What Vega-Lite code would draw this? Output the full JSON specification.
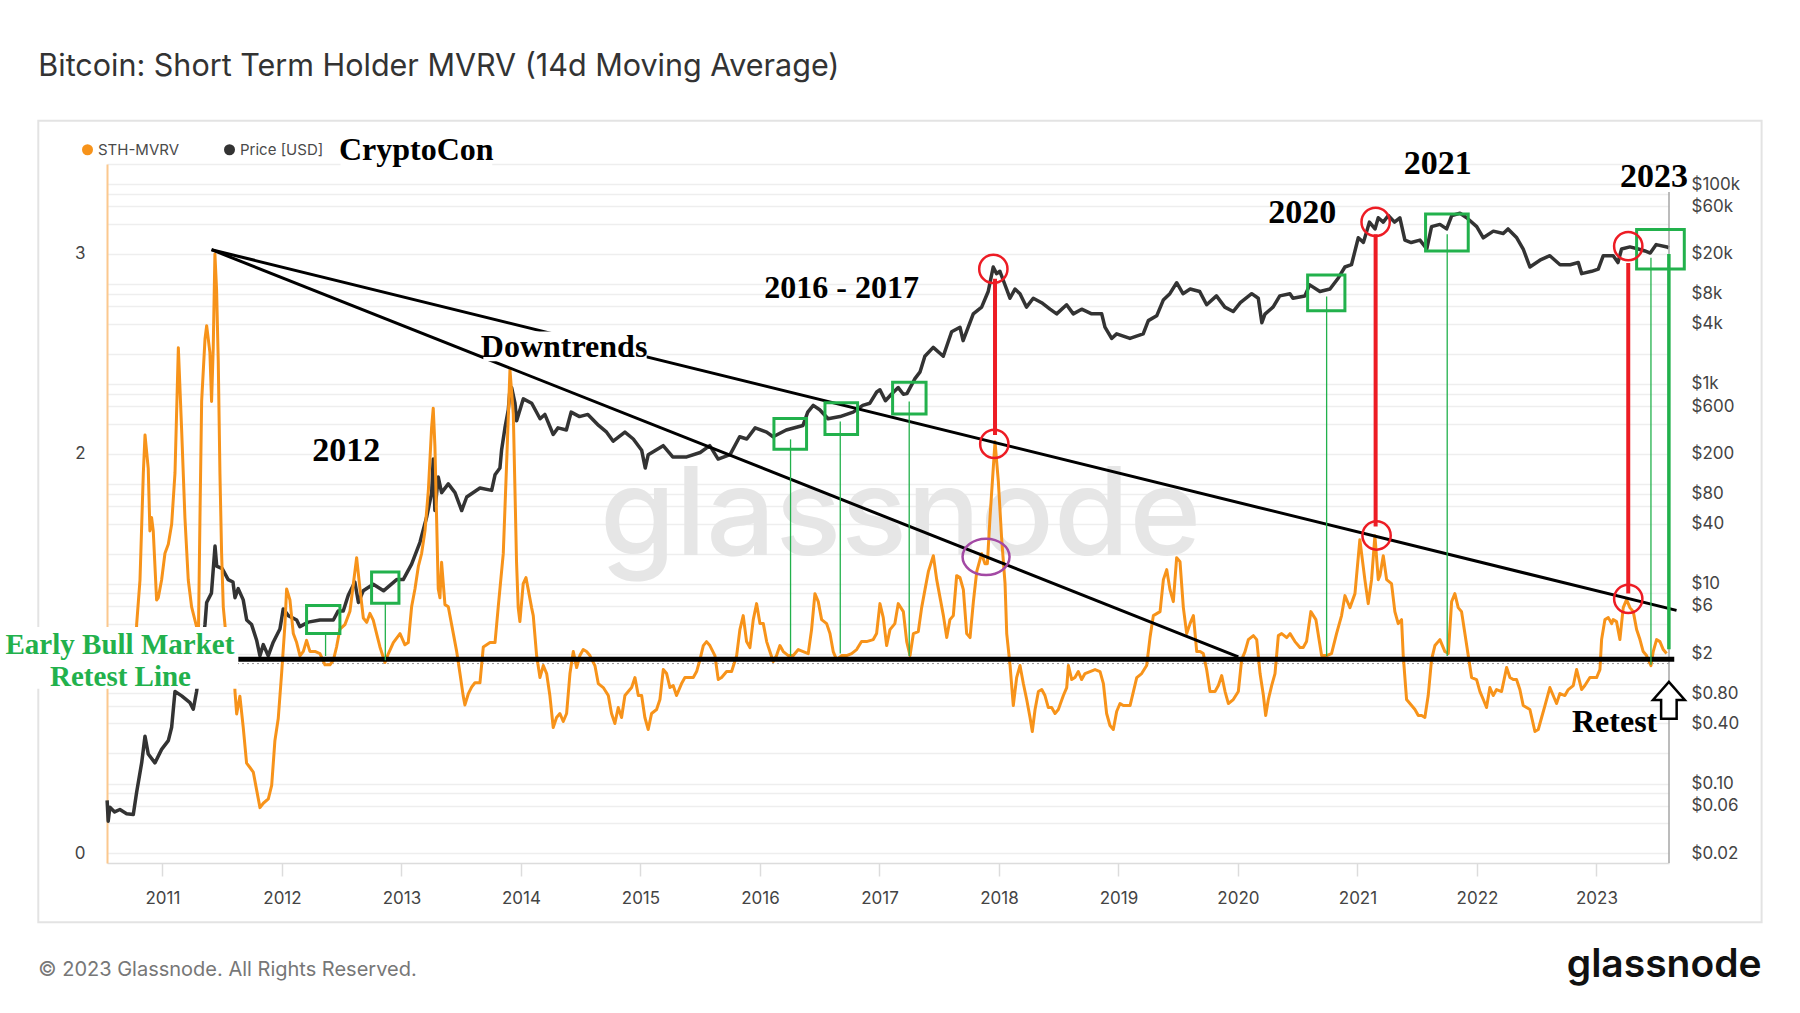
{
  "$schema": "https://vega.github.io/schema/vega-lite/v6.json",
  "width": 1562,
  "height": 699,
  "autosize": "none",
  "padding": {"left": 107, "top": 164, "right": 131, "bottom": 150},
  "background": "white",
  "config": {"view": {"stroke": null}, "font": "Inter"},
  "datasets": {
    "price": [
      {"t":2010.537,"p":0.068},{"t":2010.546,"p":0.042},{"t":2010.56,"p":0.058},{"t":2010.6,"p":0.052},{"t":2010.644,"p":0.055},{"t":2010.7,"p":0.05},{"t":2010.756,"p":0.049},{"t":2010.784,"p":0.082},{"t":2010.826,"p":0.161},{"t":2010.854,"p":0.298},{"t":2010.881,"p":0.198},{"t":2010.937,"p":0.161},{"t":2010.993,"p":0.22},{"t":2011.049,"p":0.269},{"t":2011.077,"p":0.366},{"t":2011.105,"p":0.836},{"t":2011.161,"p":0.754},{"t":2011.23,"p":0.646},{"t":2011.258,"p":0.555},{"t":2011.286,"p":0.84},{"t":2011.356,"p":3.92},{"t":2011.37,"p":6.5},{"t":2011.41,"p":8.05},{"t":2011.44,"p":23.8},{"t":2011.454,"p":15},{"t":2011.5,"p":14.2},{"t":2011.55,"p":11},{"t":2011.59,"p":10.4},{"t":2011.607,"p":7.26},{"t":2011.634,"p":8.93},{"t":2011.676,"p":6.9},{"t":2011.705,"p":4.34},{"t":2011.746,"p":3.9},{"t":2011.788,"p":2.72},{"t":2011.816,"p":1.9},{"t":2011.844,"p":2.46},{"t":2011.885,"p":1.9},{"t":2011.927,"p":2.6},{"t":2011.983,"p":3.53},{"t":2012.011,"p":5.6},{"t":2012.053,"p":4.8},{"t":2012.123,"p":4.34},{"t":2012.15,"p":3.72},{"t":2012.22,"p":4.13},{"t":2012.318,"p":4.34},{"t":2012.43,"p":4.34},{"t":2012.47,"p":5.33},{"t":2012.513,"p":5.33},{"t":2012.555,"p":7.66},{"t":2012.61,"p":10.4},{"t":2012.64,"p":6.5},{"t":2012.68,"p":8.5},{"t":2012.764,"p":9.9},{"t":2012.85,"p":8.5},{"t":2012.96,"p":11},{"t":2013.015,"p":11},{"t":2013.085,"p":15.7},{"t":2013.155,"p":26},{"t":2013.21,"p":46},{"t":2013.253,"p":81.6},{"t":2013.266,"p":177},{"t":2013.28,"p":54},{"t":2013.308,"p":117},{"t":2013.336,"p":81.6},{"t":2013.392,"p":100},{"t":2013.448,"p":81.6},{"t":2013.504,"p":54},{"t":2013.546,"p":73.8},{"t":2013.657,"p":90.8},{"t":2013.755,"p":86},{"t":2013.783,"p":123},{"t":2013.824,"p":144},{"t":2013.838,"p":218},{"t":2013.866,"p":363},{"t":2013.894,"p":551},{"t":2013.908,"p":873},{"t":2013.922,"p":919},{"t":2013.95,"p":641},{"t":2013.964,"p":427},{"t":2014.02,"p":709},{"t":2014.09,"p":641},{"t":2014.16,"p":448},{"t":2014.2,"p":495},{"t":2014.27,"p":312},{"t":2014.31,"p":363},{"t":2014.38,"p":346},{"t":2014.42,"p":522},{"t":2014.49,"p":471},{"t":2014.56,"p":495},{"t":2014.65,"p":384},{"t":2014.717,"p":329},{"t":2014.772,"p":267},{"t":2014.87,"p":329},{"t":2014.94,"p":281},{"t":2015.01,"p":217},{"t":2015.04,"p":144},{"t":2015.065,"p":196},{"t":2015.19,"p":241},{"t":2015.27,"p":186},{"t":2015.387,"p":186},{"t":2015.5,"p":206},{"t":2015.58,"p":241},{"t":2015.65,"p":177},{"t":2015.75,"p":196},{"t":2015.83,"p":296},{"t":2015.89,"p":281},{"t":2015.96,"p":363},{"t":2016.056,"p":329},{"t":2016.11,"p":296},{"t":2016.22,"p":346},{"t":2016.36,"p":384},{"t":2016.4,"p":522},{"t":2016.446,"p":610},{"t":2016.5,"p":551},{"t":2016.57,"p":448},{"t":2016.67,"p":471},{"t":2016.78,"p":522},{"t":2016.86,"p":610},{"t":2016.92,"p":641},{"t":2016.977,"p":830},{"t":2017.004,"p":873},{"t":2017.05,"p":678},{"t":2017.1,"p":787},{"t":2017.157,"p":919},{"t":2017.2,"p":787},{"t":2017.23,"p":800},{"t":2017.297,"p":1130},{"t":2017.34,"p":1321},{"t":2017.38,"p":1892},{"t":2017.45,"p":2323},{"t":2017.534,"p":1892},{"t":2017.604,"p":3327},{"t":2017.674,"p":3690},{"t":2017.7,"p":2710},{"t":2017.785,"p":5024},{"t":2017.855,"p":5871},{"t":2017.91,"p":8416},{"t":2017.952,"p":14800},{"t":2017.98,"p":12700},{"t":2018.008,"p":13400},{"t":2018.036,"p":10900},{"t":2018.078,"p":8000},{"t":2018.092,"p":7200},{"t":2018.134,"p":8900},{"t":2018.176,"p":8000},{"t":2018.23,"p":5871},{"t":2018.287,"p":7200},{"t":2018.357,"p":6500},{"t":2018.427,"p":5600},{"t":2018.483,"p":5024},{"t":2018.566,"p":6200},{"t":2018.622,"p":5024},{"t":2018.692,"p":5600},{"t":2018.776,"p":5024},{"t":2018.86,"p":5024},{"t":2018.887,"p":3700},{"t":2018.943,"p":2850},{"t":2018.985,"p":3170},{"t":2019.096,"p":2850},{"t":2019.207,"p":3170},{"t":2019.25,"p":4300},{"t":2019.32,"p":4800},{"t":2019.375,"p":6900},{"t":2019.43,"p":8000},{"t":2019.487,"p":10300},{"t":2019.54,"p":8000},{"t":2019.6,"p":8900},{"t":2019.68,"p":8400},{"t":2019.738,"p":6200},{"t":2019.82,"p":7600},{"t":2019.89,"p":5870},{"t":2019.96,"p":5300},{"t":2020.02,"p":6500},{"t":2020.115,"p":8000},{"t":2020.17,"p":7200},{"t":2020.2,"p":4100},{"t":2020.226,"p":5000},{"t":2020.295,"p":5900},{"t":2020.35,"p":7600},{"t":2020.435,"p":8000},{"t":2020.46,"p":7200},{"t":2020.56,"p":7600},{"t":2020.6,"p":9800},{"t":2020.686,"p":8400},{"t":2020.77,"p":8900},{"t":2020.84,"p":11500},{"t":2020.895,"p":14800},{"t":2020.95,"p":15600},{"t":2021.007,"p":29000},{"t":2021.05,"p":26100},{"t":2021.1,"p":41600},{"t":2021.147,"p":35600},{"t":2021.174,"p":46100},{"t":2021.216,"p":41600},{"t":2021.258,"p":48500},{"t":2021.31,"p":41600},{"t":2021.355,"p":46000},{"t":2021.397,"p":27500},{"t":2021.45,"p":26000},{"t":2021.523,"p":27500},{"t":2021.58,"p":22400},{"t":2021.62,"p":37500},{"t":2021.69,"p":39500},{"t":2021.746,"p":35600},{"t":2021.79,"p":48500},{"t":2021.858,"p":51000},{"t":2021.914,"p":46000},{"t":2021.998,"p":37500},{"t":2022.053,"p":29000},{"t":2022.137,"p":33800},{"t":2022.22,"p":32000},{"t":2022.26,"p":35600},{"t":2022.333,"p":29000},{"t":2022.387,"p":22400},{"t":2022.443,"p":14800},{"t":2022.527,"p":17300},{"t":2022.61,"p":19200},{"t":2022.695,"p":15600},{"t":2022.78,"p":15600},{"t":2022.848,"p":16400},{"t":2022.876,"p":12700},{"t":2022.96,"p":13400},{"t":2023.015,"p":14100},{"t":2023.057,"p":19200},{"t":2023.14,"p":19200},{"t":2023.18,"p":16400},{"t":2023.21,"p":22400},{"t":2023.28,"p":23500},{"t":2023.35,"p":22400},{"t":2023.406,"p":21400},{"t":2023.45,"p":20400},{"t":2023.5,"p":24800},{"t":2023.59,"p":23500},{"t":2023.606,"p":23000}
    ],
    "mvrv": [
      {"t":2010.77,"m":0.9},{"t":2010.784,"m":1.145},{"t":2010.812,"m":1.368},{"t":2010.84,"m":1.904},{"t":2010.854,"m":2.094},{"t":2010.881,"m":1.927},{"t":2010.895,"m":1.614},{"t":2010.909,"m":1.681},{"t":2010.923,"m":1.614},{"t":2010.951,"m":1.268},{"t":2010.965,"m":1.279},{"t":2010.993,"m":1.368},{"t":2011.021,"m":1.502},{"t":2011.049,"m":1.547},{"t":2011.077,"m":1.647},{"t":2011.105,"m":1.904},{"t":2011.133,"m":2.53},{"t":2011.16,"m":2.128},{"t":2011.188,"m":1.681},{"t":2011.216,"m":1.368},{"t":2011.244,"m":1.234},{"t":2011.286,"m":1.133},{"t":2011.297,"m":0.92},{"t":2011.314,"m":1.681},{"t":2011.328,"m":2.262},{"t":2011.356,"m":2.574},{"t":2011.37,"m":2.641},{"t":2011.397,"m":2.507},{"t":2011.411,"m":2.262},{"t":2011.425,"m":2.53},{"t":2011.439,"m":2.999},{"t":2011.453,"m":2.82},{"t":2011.467,"m":2.463},{"t":2011.481,"m":1.904},{"t":2011.495,"m":1.502},{"t":2011.509,"m":1.234},{"t":2011.537,"m":1.055},{"t":2011.579,"m":0.95},{"t":2011.6,"m":0.93},{"t":2011.607,"m":0.81},{"t":2011.621,"m":0.698},{"t":2011.648,"m":0.787},{"t":2011.676,"m":0.631},{"t":2011.704,"m":0.452},{"t":2011.732,"m":0.43},{"t":2011.76,"m":0.407},{"t":2011.788,"m":0.318},{"t":2011.816,"m":0.229},{"t":2011.844,"m":0.251},{"t":2011.886,"m":0.273},{"t":2011.914,"m":0.34},{"t":2011.941,"m":0.564},{"t":2011.969,"m":0.675},{"t":2011.997,"m":0.899},{"t":2012.025,"m":1.145},{"t":2012.039,"m":1.323},{"t":2012.067,"m":1.268},{"t":2012.095,"m":1.1},{"t":2012.123,"m":1.055},{"t":2012.151,"m":0.988},{"t":2012.179,"m":1.011},{"t":2012.206,"m":1.066},{"t":2012.234,"m":1.011},{"t":2012.276,"m":1.011},{"t":2012.318,"m":1.0},{"t":2012.36,"m":0.944},{"t":2012.402,"m":0.944},{"t":2012.43,"m":0.966},{"t":2012.457,"m":1.033},{"t":2012.485,"m":1.122},{"t":2012.527,"m":1.145},{"t":2012.569,"m":1.212},{"t":2012.597,"m":1.346},{"t":2012.625,"m":1.48},{"t":2012.653,"m":1.323},{"t":2012.681,"m":1.178},{"t":2012.709,"m":1.156},{"t":2012.736,"m":1.201},{"t":2012.764,"m":1.167},{"t":2012.792,"m":1.1},{"t":2012.82,"m":1.033},{"t":2012.862,"m":0.955},{"t":2012.89,"m":0.999},{"t":2012.932,"m":1.055},{"t":2012.988,"m":1.1},{"t":2013.029,"m":1.044},{"t":2013.057,"m":1.055},{"t":2013.085,"m":1.234},{"t":2013.113,"m":1.323},{"t":2013.141,"m":1.435},{"t":2013.169,"m":1.502},{"t":2013.197,"m":1.614},{"t":2013.225,"m":1.815},{"t":2013.252,"m":2.128},{"t":2013.266,"m":2.228},{"t":2013.28,"m":2.038},{"t":2013.308,"m":1.323},{"t":2013.322,"m":1.279},{"t":2013.336,"m":1.457},{"t":2013.364,"m":1.245},{"t":2013.392,"m":1.234},{"t":2013.42,"m":1.145},{"t":2013.462,"m":1.011},{"t":2013.49,"m":0.899},{"t":2013.517,"m":0.787},{"t":2013.531,"m":0.743},{"t":2013.559,"m":0.798},{"t":2013.587,"m":0.832},{"t":2013.615,"m":0.854},{"t":2013.657,"m":0.854},{"t":2013.685,"m":1.033},{"t":2013.741,"m":1.055},{"t":2013.783,"m":1.055},{"t":2013.81,"m":1.234},{"t":2013.852,"m":1.5},{"t":2013.88,"m":1.95},{"t":2013.908,"m":2.42},{"t":2013.936,"m":2.2},{"t":2013.963,"m":1.46},{"t":2013.977,"m":1.23},{"t":2013.991,"m":1.16},{"t":2014.019,"m":1.35},{"t":2014.042,"m":1.38},{"t":2014.061,"m":1.32},{"t":2014.089,"m":1.23},{"t":2014.103,"m":1.19},{"t":2014.131,"m":0.99},{"t":2014.159,"m":0.88},{"t":2014.187,"m":0.94},{"t":2014.215,"m":0.9},{"t":2014.242,"m":0.79},{"t":2014.27,"m":0.63},{"t":2014.298,"m":0.68},{"t":2014.326,"m":0.7},{"t":2014.354,"m":0.66},{"t":2014.382,"m":0.7},{"t":2014.41,"m":0.9},{"t":2014.438,"m":1.01},{"t":2014.466,"m":0.93},{"t":2014.493,"m":0.99},{"t":2014.521,"m":1.02},{"t":2014.549,"m":1.01},{"t":2014.577,"m":0.99},{"t":2014.619,"m":0.94},{"t":2014.647,"m":0.85},{"t":2014.689,"m":0.83},{"t":2014.731,"m":0.79},{"t":2014.758,"m":0.7},{"t":2014.786,"m":0.65},{"t":2014.814,"m":0.73},{"t":2014.842,"m":0.68},{"t":2014.87,"m":0.79},{"t":2014.898,"m":0.81},{"t":2014.926,"m":0.83},{"t":2014.954,"m":0.88},{"t":2014.982,"m":0.79},{"t":2015.01,"m":0.79},{"t":2015.037,"m":0.68},{"t":2015.065,"m":0.62},{"t":2015.093,"m":0.7},{"t":2015.135,"m":0.72},{"t":2015.163,"m":0.77},{"t":2015.191,"m":0.92},{"t":2015.219,"m":0.9},{"t":2015.247,"m":0.83},{"t":2015.274,"m":0.84},{"t":2015.302,"m":0.79},{"t":2015.344,"m":0.85},{"t":2015.372,"m":0.88},{"t":2015.414,"m":0.88},{"t":2015.442,"m":0.88},{"t":2015.47,"m":0.91},{"t":2015.498,"m":0.97},{"t":2015.526,"m":1.04},{"t":2015.553,"m":1.06},{"t":2015.581,"m":1.04},{"t":2015.623,"m":0.99},{"t":2015.651,"m":0.87},{"t":2015.679,"m":0.88},{"t":2015.721,"m":0.91},{"t":2015.763,"m":0.91},{"t":2015.805,"m":0.99},{"t":2015.832,"m":1.12},{"t":2015.86,"m":1.19},{"t":2015.888,"m":1.06},{"t":2015.916,"m":1.03},{"t":2015.944,"m":1.17},{"t":2015.972,"m":1.25},{"t":2016.0,"m":1.15},{"t":2016.028,"m":1.15},{"t":2016.056,"m":1.06},{"t":2016.083,"m":1.01},{"t":2016.111,"m":0.96},{"t":2016.139,"m":0.99},{"t":2016.167,"m":1.04},{"t":2016.195,"m":1.01},{"t":2016.237,"m":0.99},{"t":2016.279,"m":0.99},{"t":2016.321,"m":1.02},{"t":2016.362,"m":1.01},{"t":2016.404,"m":1.0},{"t":2016.432,"m":1.12},{"t":2016.46,"m":1.3},{"t":2016.488,"m":1.26},{"t":2016.516,"m":1.17},{"t":2016.558,"m":1.15},{"t":2016.586,"m":1.1},{"t":2016.613,"m":1.01},{"t":2016.641,"m":0.97},{"t":2016.683,"m":0.99},{"t":2016.725,"m":0.99},{"t":2016.767,"m":1.0},{"t":2016.809,"m":1.02},{"t":2016.85,"m":1.06},{"t":2016.892,"m":1.06},{"t":2016.948,"m":1.07},{"t":2016.976,"m":1.1},{"t":2017.004,"m":1.25},{"t":2017.032,"m":1.18},{"t":2017.06,"m":1.04},{"t":2017.088,"m":1.12},{"t":2017.129,"m":1.15},{"t":2017.157,"m":1.25},{"t":2017.2,"m":1.21},{"t":2017.228,"m":1.06},{"t":2017.256,"m":0.99},{"t":2017.284,"m":1.1},{"t":2017.325,"m":1.11},{"t":2017.353,"m":1.23},{"t":2017.381,"m":1.32},{"t":2017.409,"m":1.41},{"t":2017.451,"m":1.49},{"t":2017.479,"m":1.37},{"t":2017.507,"m":1.28},{"t":2017.535,"m":1.19},{"t":2017.563,"m":1.08},{"t":2017.59,"m":1.17},{"t":2017.618,"m":1.19},{"t":2017.646,"m":1.39},{"t":2017.674,"m":1.38},{"t":2017.702,"m":1.32},{"t":2017.73,"m":1.1},{"t":2017.758,"m":1.08},{"t":2017.786,"m":1.26},{"t":2017.814,"m":1.41},{"t":2017.855,"m":1.5},{"t":2017.883,"m":1.45},{"t":2017.903,"m":1.45},{"t":2017.925,"m":1.68},{"t":2017.967,"m":2.06},{"t":2017.995,"m":1.86},{"t":2018.023,"m":1.57},{"t":2018.051,"m":1.35},{"t":2018.065,"m":1.1},{"t":2018.093,"m":0.94},{"t":2018.12,"m":0.74},{"t":2018.148,"m":0.88},{"t":2018.176,"m":0.94},{"t":2018.204,"m":0.85},{"t":2018.232,"m":0.77},{"t":2018.26,"m":0.68},{"t":2018.279,"m":0.61},{"t":2018.302,"m":0.72},{"t":2018.33,"m":0.81},{"t":2018.358,"m":0.82},{"t":2018.385,"m":0.79},{"t":2018.413,"m":0.73},{"t":2018.441,"m":0.73},{"t":2018.469,"m":0.7},{"t":2018.497,"m":0.72},{"t":2018.539,"m":0.79},{"t":2018.567,"m":0.83},{"t":2018.581,"m":0.94},{"t":2018.609,"m":0.87},{"t":2018.636,"m":0.88},{"t":2018.664,"m":0.91},{"t":2018.692,"m":0.87},{"t":2018.72,"m":0.9},{"t":2018.762,"m":0.91},{"t":2018.804,"m":0.92},{"t":2018.846,"m":0.91},{"t":2018.874,"m":0.85},{"t":2018.901,"m":0.7},{"t":2018.929,"m":0.64},{"t":2018.957,"m":0.62},{"t":2018.985,"m":0.71},{"t":2019.013,"m":0.75},{"t":2019.041,"m":0.74},{"t":2019.097,"m":0.74},{"t":2019.125,"m":0.81},{"t":2019.153,"m":0.88},{"t":2019.194,"m":0.9},{"t":2019.236,"m":0.94},{"t":2019.264,"m":1.08},{"t":2019.292,"m":1.19},{"t":2019.348,"m":1.21},{"t":2019.376,"m":1.37},{"t":2019.404,"m":1.42},{"t":2019.431,"m":1.32},{"t":2019.459,"m":1.26},{"t":2019.487,"m":1.48},{"t":2019.515,"m":1.46},{"t":2019.543,"m":1.23},{"t":2019.571,"m":1.1},{"t":2019.599,"m":1.15},{"t":2019.627,"m":1.19},{"t":2019.655,"m":1.01},{"t":2019.683,"m":1.01},{"t":2019.71,"m":1.0},{"t":2019.738,"m":0.92},{"t":2019.766,"m":0.81},{"t":2019.808,"m":0.81},{"t":2019.836,"m":0.84},{"t":2019.864,"m":0.89},{"t":2019.892,"m":0.81},{"t":2019.92,"m":0.75},{"t":2019.961,"m":0.77},{"t":2020.003,"m":0.81},{"t":2020.031,"m":0.97},{"t":2020.059,"m":1.01},{"t":2020.087,"m":1.07},{"t":2020.129,"m":1.09},{"t":2020.157,"m":1.07},{"t":2020.185,"m":0.9},{"t":2020.213,"m":0.79},{"t":2020.232,"m":0.69},{"t":2020.254,"m":0.77},{"t":2020.282,"m":0.84},{"t":2020.31,"m":0.9},{"t":2020.338,"m":1.09},{"t":2020.366,"m":1.1},{"t":2020.408,"m":1.08},{"t":2020.436,"m":1.1},{"t":2020.477,"m":1.06},{"t":2020.519,"m":1.03},{"t":2020.546,"m":1.03},{"t":2020.574,"m":1.06},{"t":2020.61,"m":1.21},{"t":2020.652,"m":1.17},{"t":2020.7,"m":0.99},{"t":2020.742,"m":0.99},{"t":2020.783,"m":1.0},{"t":2020.825,"m":1.1},{"t":2020.867,"m":1.19},{"t":2020.895,"m":1.29},{"t":2020.937,"m":1.23},{"t":2020.979,"m":1.3},{"t":2021.02,"m":1.57},{"t":2021.062,"m":1.37},{"t":2021.09,"m":1.25},{"t":2021.118,"m":1.37},{"t":2021.146,"m":1.59},{"t":2021.174,"m":1.37},{"t":2021.188,"m":1.39},{"t":2021.216,"m":1.49},{"t":2021.244,"m":1.37},{"t":2021.285,"m":1.35},{"t":2021.313,"m":1.21},{"t":2021.341,"m":1.15},{"t":2021.369,"m":1.17},{"t":2021.383,"m":0.99},{"t":2021.411,"m":0.77},{"t":2021.453,"m":0.74},{"t":2021.481,"m":0.72},{"t":2021.509,"m":0.69},{"t":2021.537,"m":0.69},{"t":2021.564,"m":0.68},{"t":2021.592,"m":0.79},{"t":2021.62,"m":0.97},{"t":2021.648,"m":1.04},{"t":2021.69,"m":1.07},{"t":2021.732,"m":1.01},{"t":2021.76,"m":1.0},{"t":2021.788,"m":1.26},{"t":2021.815,"m":1.3},{"t":2021.843,"m":1.23},{"t":2021.871,"m":1.21},{"t":2021.899,"m":1.1},{"t":2021.927,"m":0.99},{"t":2021.955,"m":0.88},{"t":2021.997,"m":0.87},{"t":2022.025,"m":0.81},{"t":2022.053,"m":0.77},{"t":2022.08,"m":0.73},{"t":2022.108,"m":0.83},{"t":2022.136,"m":0.79},{"t":2022.164,"m":0.82},{"t":2022.206,"m":0.81},{"t":2022.248,"m":0.93},{"t":2022.276,"m":0.88},{"t":2022.304,"m":0.87},{"t":2022.331,"m":0.87},{"t":2022.359,"m":0.82},{"t":2022.387,"m":0.74},{"t":2022.415,"m":0.73},{"t":2022.443,"m":0.72},{"t":2022.485,"m":0.61},{"t":2022.513,"m":0.62},{"t":2022.541,"m":0.68},{"t":2022.569,"m":0.74},{"t":2022.61,"m":0.83},{"t":2022.638,"m":0.79},{"t":2022.666,"m":0.75},{"t":2022.694,"m":0.8},{"t":2022.736,"m":0.79},{"t":2022.764,"m":0.82},{"t":2022.806,"m":0.84},{"t":2022.834,"m":0.92},{"t":2022.876,"m":0.82},{"t":2022.903,"m":0.84},{"t":2022.945,"m":0.88},{"t":2023.001,"m":0.88},{"t":2023.029,"m":0.92},{"t":2023.043,"m":1.07},{"t":2023.071,"m":1.17},{"t":2023.099,"m":1.18},{"t":2023.127,"m":1.15},{"t":2023.14,"m":1.17},{"t":2023.168,"m":1.16},{"t":2023.196,"m":1.07},{"t":2023.224,"m":1.23},{"t":2023.252,"m":1.27},{"t":2023.28,"m":1.23},{"t":2023.308,"m":1.21},{"t":2023.336,"m":1.12},{"t":2023.364,"m":1.07},{"t":2023.391,"m":1.01},{"t":2023.419,"m":0.99},{"t":2023.456,"m":0.94},{"t":2023.475,"m":1.01},{"t":2023.503,"m":1.07},{"t":2023.531,"m":1.06},{"t":2023.559,"m":1.02},{"t":2023.587,"m":1.0}
    ]
  },
  "encoding": {
    "x": {
      "field": "t",
      "type": "quantitative",
      "scale": {"domain": [2010.536, 2023.607], "nice": false, "zero": false},
      "axis": {
        "values": [2011, 2012, 2013, 2014, 2015, 2016, 2017, 2018, 2019, 2020, 2021, 2022, 2023],
        "format": "d",
        "title": null,
        "grid": false,
        "labelFont": "Inter",
        "labelFontSize": 17,
        "labelColor": "#444444",
        "labelPadding": 14,
        "labelFlush": false,
        "labelOverlap": false,
        "tickColor": "#dcdcdc",
        "tickWidth": 1.5,
        "tickSize": 13,
        "domainColor": "#dcdcdc",
        "domainWidth": 1.5
      }
    }
  },
  "layer": [
    {
      "encoding": {
        "y": {"field": "m", "type": "quantitative", "scale": {"domain": [-0.048, 3.45], "nice": false, "zero": false}, "axis": null}
      },
      "layer": [
        {
          "data": {"values": [{"t": 2009.961, "t2": 2024.382, "m": 3.666, "m2": -0.344}]},
          "mark": {"type": "rect", "fillOpacity": 0, "stroke": "#e3e3e3", "strokeWidth": 2},
          "encoding": {"x2": {"field": "t2"}, "y2": {"field": "m2"}}
        },
        {
          "data": {"values": [{"t": 2017.176, "m": 1.491, "label": "glassnode"}]},
          "mark": {"type": "text", "font": "Inter", "fontSize": 122, "fontWeight": 500, "color": "#e6e6e6", "align": "center", "baseline": "alphabetic"},
          "encoding": {"text": {"field": "label"}}
        }
      ]
    },
    {
      "data": {"name": "price"},
      "mark": {"type": "line", "strokeWidth": 3.5, "strokeJoin": "round"},
      "encoding": {
        "y": {
          "field": "p",
          "type": "quantitative",
          "scale": {"type": "log", "domain": [0.016035, 158866], "nice": false},
          "axis": {
            "orient": "right",
            "title": null,
            "values": [0.02, 0.04, 0.06, 0.08, 0.1, 0.2, 0.4, 0.6, 0.8, 1, 2, 4, 6, 8, 10, 20, 40, 60, 80, 100, 200, 400, 600, 800, 1000, 2000, 4000, 6000, 8000, 10000, 20000, 40000, 60000, 80000, 100000, 158000],
            "labelExpr": "indexof([0.02, 0.06, 0.1, 0.4, 0.8, 2, 6, 10, 40, 80, 200, 600, 1000, 4000, 8000, 20000, 60000, 100000], datum.value) < 0 ? '' : datum.value >= 1000 ? '$' + format(datum.value / 1000, 'd') + 'k' : datum.value >= 1 ? '$' + format(datum.value, 'd') : '$' + format(datum.value, '.2f')",
            "ticks": false,
            "domain": false,
            "grid": true,
            "gridColor": "#eeeeee",
            "gridWidth": 1.5,
            "labelFont": "Inter",
            "labelFontSize": 17,
            "labelColor": "#444444",
            "labelPadding": 22,
            "labelOverlap": false
          }
        },
        "color": {"datum": "Price [USD]", "type": "nominal"}
      }
    },
    {
      "encoding": {
        "y": {
          "field": "m",
          "type": "quantitative",
          "scale": {"domain": [-0.048, 3.45], "nice": false, "zero": false},
          "axis": {
            "orient": "left",
            "title": null,
            "values": [0, 2, 3],
            "grid": false,
            "ticks": false,
            "labelFont": "Inter",
            "labelFontSize": 17,
            "labelColor": "#444444",
            "labelPadding": 22,
            "domainColor": "#fbc88e",
            "domainWidth": 2
          }
        }
      },
      "layer": [
        {
          "data": {"values": [{"t": 2010.536, "t2": 2023.607, "m": 0.95}]},
          "mark": {"type": "rule", "color": "#9a9a9a", "strokeWidth": 1, "strokeDash": [2, 3]},
          "encoding": {"x2": {"field": "t2"}}
        },
        {
          "data": {"values": [{"t": 2023.607, "m": 3.31, "m2": -0.048}]},
          "mark": {"type": "rule", "color": "#a6a6a6", "strokeWidth": 1.5},
          "encoding": {"y2": {"field": "m2"}}
        },
        {
          "data": {"name": "mvrv"},
          "mark": {"type": "line", "strokeWidth": 3, "strokeJoin": "round"},
          "encoding": {
            "color": {
              "datum": "STH-MVRV",
              "type": "nominal",
              "scale": {"domain": ["STH-MVRV", "Price [USD]"], "range": ["#f7931a", "#333333"]},
              "legend": {
                "orient": "none",
                "legendX": -27,
                "legendY": -22,
                "direction": "horizontal",
                "title": null,
                "padding": 0,
                "symbolType": "circle",
                "symbolSize": 121,
                "symbolStrokeWidth": 0,
                "labelFont": "Inter",
                "labelFontSize": 15,
                "labelColor": "#4a4a4a",
                "labelOffset": 3,
                "columnPadding": 42,
                "encode": {"symbols": {"update": {"fill": {"scale": "color", "field": "value"}, "fillOpacity": {"value": 1}}}}
              }
            }
          }
        },
        {
          "data": {"values": [
            {"t": 2011.411, "m": 3.021, "t2": 2023.67, "m2": 1.216},
            {"t": 2011.411, "m": 3.021, "t2": 2020.003, "m2": 0.984}
          ]},
          "mark": {"type": "rule", "color": "black", "strokeWidth": 3},
          "encoding": {"x2": {"field": "t2"}, "y2": {"field": "m2"}}
        },
        {
          "data": {"values": [{"t": 2011.635, "t2": 2023.651, "m": 0.972}]},
          "mark": {"type": "rule", "color": "black", "strokeWidth": 5},
          "encoding": {"x2": {"field": "t2"}}
        },
        {
          "data": {"values": [
            {"t": 2012.365, "m": 1.1, "m2": 0.988},
            {"t": 2012.865, "m": 1.252, "m2": 0.966},
            {"t": 2016.256, "m": 2.072, "m2": 0.988},
            {"t": 2016.672, "m": 2.161, "m2": 1.0},
            {"t": 2017.249, "m": 2.262, "m2": 0.988},
            {"t": 2020.742, "m": 2.787, "m2": 0.988},
            {"t": 2021.751, "m": 3.099, "m2": 0.988},
            {"t": 2023.456, "m": 2.981, "m2": 0.944}
          ]},
          "mark": {"type": "rule", "color": "#22b14c", "strokeWidth": 1.3},
          "encoding": {"y2": {"field": "m2"}}
        },
        {
          "data": {"values": [{"t": 2023.606, "m": 2.999, "m2": 1.022}]},
          "mark": {"type": "rule", "color": "#22b14c", "strokeWidth": 3.5},
          "encoding": {"y2": {"field": "m2"}}
        },
        {
          "data": {"values": [
            {"t": 2017.967, "m": 2.876, "m2": 2.094},
            {"t": 2021.152, "m": 3.099, "m2": 1.636},
            {"t": 2023.266, "m": 2.954, "m2": 1.301}
          ]},
          "mark": {"type": "rule", "color": "#ed1c24", "strokeWidth": 4},
          "encoding": {"y2": {"field": "m2"}}
        },
        {
          "data": {"values": [
            {"t": 2012.206, "t2": 2012.485, "m": 1.241, "m2": 1.1},
            {"t": 2012.75, "t2": 2012.979, "m": 1.408, "m2": 1.252},
            {"t": 2016.117, "t2": 2016.39, "m": 2.177, "m2": 2.023},
            {"t": 2016.544, "t2": 2016.817, "m": 2.255, "m2": 2.096},
            {"t": 2017.11, "t2": 2017.39, "m": 2.358, "m2": 2.199},
            {"t": 2020.583, "t2": 2020.895, "m": 2.894, "m2": 2.715},
            {"t": 2021.57, "t2": 2021.927, "m": 3.2, "m2": 3.015},
            {"t": 2023.336, "t2": 2023.735, "m": 3.122, "m2": 2.925}
          ]},
          "mark": {"type": "rect", "fillOpacity": 0, "stroke": "#22b14c", "strokeWidth": 3},
          "encoding": {"x2": {"field": "t2"}, "y2": {"field": "m2"}}
        },
        {
          "data": {"values": [
            {"t": 2017.953, "m": 2.925},
            {"t": 2017.961, "m": 2.049},
            {"t": 2021.152, "m": 3.16},
            {"t": 2021.16, "m": 1.591},
            {"t": 2023.266, "m": 3.039},
            {"t": 2023.266, "m": 1.274}
          ]},
          "mark": {"type": "point", "shape": "circle", "size": 800, "filled": false, "stroke": "#ed1c24", "strokeWidth": 2.5, "opacity": 1}
        },
        {
          "data": {"values": [{"t": 2017.892, "m": 1.484}]},
          "mark": {"type": "point", "shape": "M-1,0A1,0.77,0,1,1,1,0A1,0.77,0,1,1,-1,0Z", "size": 2209, "filled": false, "stroke": "#a349a4", "strokeWidth": 2.5, "opacity": 1}
        },
        {
          "data": {"values": [
            {"t": 2013.685, "t2": 2015.052, "m": 2.463, "m2": 2.612},
            {"t": 2009.64, "t2": 2011.632, "m": 0.824, "m2": 1.133},
            {"t": 2012.49, "t2": 2013.76, "m": 3.43, "m2": 3.59}
          ]},
          "mark": {"type": "rect", "color": "white", "opacity": 1},
          "encoding": {"x2": {"field": "t2"}, "y2": {"field": "m2"}}
        },
        {
          "data": {"values": [
            {"t": 2013.124, "m": 3.47, "label": "CryptoCon"},
            {"t": 2016.683, "m": 2.78, "label": "2016 - 2017"},
            {"t": 2014.361, "m": 2.485, "label": "Downtrends"},
            {"t": 2023.152, "m": 0.607, "label": "Retest"}
          ]},
          "mark": {"type": "text", "font": "Liberation Serif", "fontWeight": "bold", "fontSize": 32, "color": "black", "align": "center", "baseline": "alphabetic"},
          "encoding": {"text": {"field": "label"}}
        },
        {
          "data": {"values": [
            {"t": 2012.538, "m": 1.965, "label": "2012"},
            {"t": 2020.539, "m": 3.156, "label": "2020"},
            {"t": 2021.672, "m": 3.402, "label": "2021"},
            {"t": 2023.481, "m": 3.335, "label": "2023"}
          ]},
          "mark": {"type": "text", "font": "Liberation Serif", "fontWeight": "bold", "fontSize": 34, "color": "black", "align": "center", "baseline": "alphabetic"},
          "encoding": {"text": {"field": "label"}}
        },
        {
          "data": {"values": [
            {"t": 2010.644, "m": 1.0, "label": "Early Bull Market"},
            {"t": 2010.649, "m": 0.836, "label": "Retest Line"}
          ]},
          "mark": {"type": "text", "font": "Liberation Serif", "fontWeight": "bold", "fontSize": 29, "color": "#22b14c", "align": "center", "baseline": "alphabetic"},
          "encoding": {"text": {"field": "label"}}
        },
        {
          "data": {"values": [{"t": 2023.606, "m": 0.766}]},
          "mark": {"type": "point", "shape": "M0,-1L0.86,-0.02L0.42,-0.02L0.42,1L-0.42,1L-0.42,-0.02L-0.86,-0.02Z", "size": 1369, "filled": true, "fill": "white", "stroke": "black", "strokeWidth": 2.5, "opacity": 1}
        },
        {
          "data": {"values": [{"t": 2009.961, "m": 3.89, "label": "Bitcoin: Short Term Holder MVRV (14d Moving Average)"}]},
          "mark": {"type": "text", "font": "Inter", "fontSize": 30.5, "color": "#333333", "align": "left", "baseline": "alphabetic"},
          "encoding": {"text": {"field": "label"}}
        },
        {
          "data": {"values": [{"t": 2009.961, "m": -0.611, "label": "© 2023 Glassnode. All Rights Reserved."}]},
          "mark": {"type": "text", "font": "Inter", "fontSize": 20, "color": "#777777", "align": "left", "baseline": "alphabetic"},
          "encoding": {"text": {"field": "label"}}
        },
        {
          "data": {"values": [{"t": 2024.382, "m": -0.619, "label": "glassnode"}]},
          "mark": {"type": "text", "font": "Inter", "fontSize": 39, "fontWeight": 600, "color": "#111111", "align": "right", "baseline": "alphabetic"},
          "encoding": {"text": {"field": "label"}}
        }
      ]
    }
  ],
  "resolve": {"scale": {"y": "independent"}}
}
